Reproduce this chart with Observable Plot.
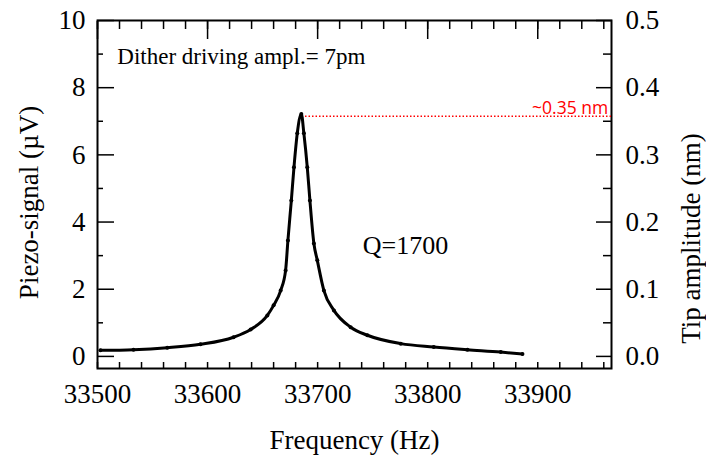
<!DOCTYPE html>
<html><head><meta charset="utf-8">
<script src="https://cdn.jsdelivr.net/npm/d3@7"></script>
<script src="https://cdn.jsdelivr.net/npm/@observablehq/plot@0.6"></script>
<style>
body{margin:0;background:#fff}
</style>
</head><body><div id="chart"></div>
<script>
// Resonance curve
const freq   = [33502.7, 33532.7, 33563.4, 33593.6, 33623.6, 33639.1, 33654.3, 33660.0, 33666.4, 33670.9, 33673.0, 33676.1, 33678.5, 33681.5, 33685.2, 33687.5, 33690.6, 33693.0, 33696.6, 33699.7, 33705.7, 33714.8, 33730.0, 33745.2, 33775.5, 33805.5, 33836.1, 33866.4, 33886.1];
const signal = [0.18, 0.20, 0.26, 0.36, 0.57, 0.80, 1.22, 1.52, 1.96, 2.56, 3.45, 4.64, 5.63, 6.64, 7.22, 6.64, 5.63, 4.64, 3.36, 2.86, 1.96, 1.37, 0.87, 0.63, 0.38, 0.28, 0.20, 0.13, 0.07];

const xMajorTicks = [33500, 33600, 33700, 33800, 33900];
const xMinorTicks = [33500,33520,33540,33560,33580,33600,33620,33640,33660,33680,33700,33720,33740,33760,33780,33800,33820,33840,33860,33880,33900,33920,33940,33960];
const yMajorTicks = [0, 2, 4, 6, 8, 10];
const yMinorTicks = [1, 3, 5, 7, 9];
const yRightLabels = ["0.0", "0.1", "0.2", "0.3", "0.4", "0.5"];

const xTitle = "Frequency (Hz)";
const yLeftTitle = "Piezo-signal (\u00b5V)";
const yRightTitle = "Tip amplitude (nm)";

// annotations (data coordinates)
const ditherText = ["Dither driving ampl.= 7pm"];
const ditherPos = {x: 33518, y: 8.93};
const qText = ["Q=1700"];
const qPos = {x: 33741, y: 3.3};
const refLevel = [7.15];
const refFrom = 33689, refTo = 33967;
const refText = ["~0.35 nm"];
const refTextPos = {x: 33964, y: 7.38};

const data = freq.map((f, i) => ({f, v: signal[i]}));
const SERIF = "'Times New Roman', 'Liberation Serif', 'DejaVu Serif', serif";

const chart = Plot.plot({
  width: 706, height: 463,
  marginLeft: 97, marginRight: 95, marginTop: 20, marginBottom: 95,
  x: {domain: [33500, 33967], label: null},
  y: {domain: [-0.36, 10], label: null},
  style: {fontFamily: SERIF, fontSize: "27px", color: "#000", background: "#fff"},
  marks: [
    // inward ticks
    Plot.axisX(xMinorTicks, {anchor: "bottom", tickSize: -6, text: null, strokeWidth: 1.5, label: null}),
    Plot.axisX(xMinorTicks, {anchor: "top", tickSize: -8, text: null, strokeWidth: 1.5, label: null}),
    Plot.axisX(xMajorTicks, {anchor: "top", tickSize: -18, text: null, strokeWidth: 1.5, label: null}),
    Plot.axisX(xMajorTicks, {anchor: "bottom", tickSize: 0, tickPadding: 15, tickFormat: d => String(d), label: null, fontFamily: SERIF, fontSize: 27}),
    Plot.axisY(yMinorTicks, {anchor: "left", tickSize: -6, text: null, strokeWidth: 1.5, label: null}),
    Plot.axisY(yMajorTicks, {anchor: "left", tickSize: -17, text: null, strokeWidth: 1.5, label: null}),
    Plot.axisY(yMajorTicks, {anchor: "left", tickSize: 0, tickPadding: 12, tickFormat: d => String(d), label: null, fontFamily: SERIF, fontSize: 27}),
    Plot.axisY(yMinorTicks, {anchor: "right", tickSize: -9, text: null, strokeWidth: 1.5, label: null}),
    Plot.axisY(yMajorTicks, {anchor: "right", tickSize: -16, text: null, strokeWidth: 1.5, label: null}),
    Plot.axisY(yMajorTicks, {anchor: "right", tickSize: 0, tickPadding: 14, tickFormat: d => yRightLabels[yMajorTicks.indexOf(d)], label: null, fontFamily: SERIF, fontSize: 27}),
    Plot.frame({stroke: "#000", strokeWidth: 2}),
    // titles
    Plot.text([xTitle], {frameAnchor: "bottom", dy: 72, text: d => d, fontFamily: SERIF, fontSize: 27, lineAnchor: "middle", textAnchor: "middle"}),
    Plot.text([yLeftTitle], {frameAnchor: "left", dx: -68, dy: 8, rotate: -90, text: d => d, fontFamily: SERIF, fontSize: 27, lineAnchor: "middle", textAnchor: "middle"}),
    Plot.text([yRightTitle], {frameAnchor: "right", dx: 80, dy: 44, rotate: -90, text: d => d, fontFamily: SERIF, fontSize: 27, lineAnchor: "middle", textAnchor: "middle"}),
    // reference line
    Plot.ruleY(refLevel, {x1: refFrom, x2: refTo, stroke: "#ff0000", strokeWidth: 1.5, strokeDasharray: "1.5,2"}),
    Plot.text(refText, {x: refTextPos.x, y: refTextPos.y, text: d => d, fill: "#ff0000", textAnchor: "end", fontFamily: "'Open Sans', sans-serif", fontSize: 17.5}),
    // curve
    Plot.line(data, {x: "f", y: "v", stroke: "#000", strokeWidth: 3, curve: "monotone-x"}),
    Plot.dot(data, {x: "f", y: "v", r: 2, fill: "#000"}),
    // annotations
    Plot.text(ditherText, {x: ditherPos.x, y: ditherPos.y, text: d => d, textAnchor: "start", fontFamily: SERIF, fontSize: 23}),
    Plot.text(qText, {x: qPos.x, y: qPos.y, text: d => d, textAnchor: "start", fontFamily: SERIF, fontSize: 26})
  ]
});
document.getElementById("chart").append(chart);
</script>
</body></html>
